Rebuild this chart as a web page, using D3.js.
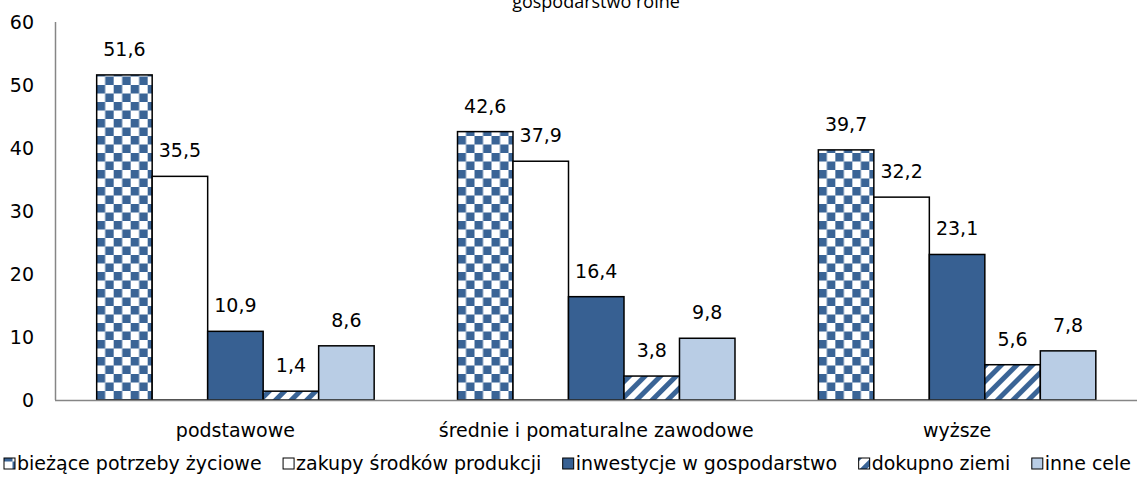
<!DOCTYPE html>
<html>
<head>
<meta charset="utf-8">
<script src="https://cdn.jsdelivr.net/npm/d3@7"></script>
<style>
  body { margin: 0; background: #fff; }
  svg { display: block; font-family: "DejaVu Sans", Verdana, sans-serif; }
</style>
</head>
<body>
<div id="chart"></div>
<script>
    // dane
    var title = "gospodarstwo rolne";
    var groups = ["podstawowe", "średnie i pomaturalne zawodowe", "wyższe"];
    var series = ["bieżące potrzeby życiowe", "zakupy środków produkcji", "inwestycje w gospodarstwo", "dokupno ziemi", "inne cele"];
    var values = [
      [51.6, 35.5, 10.9, 1.4, 8.6],
      [42.6, 37.9, 16.4, 3.8, 9.8],
      [39.7, 32.2, 23.1, 5.6, 7.8]
    ];
    var yTicks = [0, 10, 20, 30, 40, 50, 60];

    var W = 1137, H = 493;
    var svg = d3.select("#chart").append("svg").attr("width", W).attr("height", H);

    // wzory wypełnienia
    var defs = svg.append("defs");
    var checker = defs.append("pattern").attr("id", "checker")
      .attr("patternUnits", "userSpaceOnUse").attr("width", 17).attr("height", 17);
    checker.append("rect").attr("width", 17).attr("height", 17).attr("fill", "#fff");
    checker.append("rect").attr("width", 8.5).attr("height", 8.5).attr("fill", "#3a6496");
    checker.append("rect").attr("x", 8.5).attr("y", 8.5).attr("width", 8.5).attr("height", 8.5).attr("fill", "#3a6496");

    var stripes = defs.append("pattern").attr("id", "stripes")
      .attr("patternUnits", "userSpaceOnUse").attr("width", 11).attr("height", 11)
      .attr("patternTransform", "rotate(45)");
    stripes.append("rect").attr("width", 11).attr("height", 11).attr("fill", "#fff");
    stripes.append("rect").attr("width", 5).attr("height", 11).attr("fill", "#3a6496");

    var fills = ["url(#checker)", "#fff", "#376092", "url(#stripes)", "#b9cde5"];

    var x0 = d3.scaleBand().domain(groups).range([55, 1137.5]).paddingInner(0.231).paddingOuter(0.1155);
    var x1 = d3.scaleBand().domain(series).range([0, x0.bandwidth()]);
    var y = d3.scaleLinear().domain([0, 60]).range([400, 22]);

    // tytuł (ucięty u góry)
    svg.append("text").attr("x", 596).attr("y", 8)
      .attr("text-anchor", "middle").style("font-size", "18px").style("font-family", "'Open Sans', sans-serif")
      .style("fill", "#000").text(title);

    // oś Y
    svg.append("line").attr("x1", 55.5).attr("x2", 55.5).attr("y1", 22).attr("y2", 400)
      .style("stroke", "#868686").style("stroke-width", 1.5);
    svg.selectAll(".ytick").data(yTicks).enter().append("text")
      .attr("class", "ytick")
      .attr("x", 34).attr("y", function(d) { return y(d); }).attr("dy", 7)
      .attr("text-anchor", "end").style("font-size", "19px").text(function(d) { return d; });

    // słupki
    var g = svg.selectAll(".grp").data(values).enter().append("g")
      .attr("transform", function(d, i) { return "translate(" + x0(groups[i]) + ",0)"; });

    g.selectAll("rect").data(function(d) { return d; }).enter().append("rect")
      .attr("x", function(d, i) { return x1(series[i]); })
      .attr("y", function(d) { return y(d); })
      .attr("width", x1.bandwidth())
      .attr("height", function(d) { return y(0) - y(d); })
      .style("fill", function(d, i) { return fills[i]; })
      .style("stroke", "#000").style("stroke-width", 1.5);

    g.selectAll("text").data(function(d) { return d; }).enter().append("text")
      .attr("x", function(d, i) { return x1(series[i]) + x1.bandwidth() / 2; })
      .attr("y", function(d) { return y(d) - 19; })
      .attr("text-anchor", "middle").style("font-size", "19px")
      .text(function(d) { return d3.format(".1f")(d).replace(".", ","); });

    // oś X
    svg.append("line").attr("x1", 55).attr("x2", 1137).attr("y1", 400.5).attr("y2", 400.5)
      .style("stroke", "#868686").style("stroke-width", 1.5);
    svg.selectAll(".xlab").data(groups).enter().append("text")
      .attr("x", function(d) { return x0(d) + x0.bandwidth() / 2; })
      .attr("y", 437).attr("text-anchor", "middle").style("font-size", "19px")
      .text(function(d) { return d; });

    // legenda - rozłożona na szerokość ~1127px
    var leg = svg.append("g").attr("transform", "translate(4,470)");
    var items = series.map(function(s, i) {
      var it = leg.append("g");
      it.append("rect").attr("x", 0).attr("y", -12).attr("width", 11).attr("height", 11)
        .style("fill", fills[i]).style("stroke", "#000").style("stroke-width", 1);
      var t = it.append("text").attr("x", 13).attr("y", 0).style("font-size", "19px").text(s);
      return { g: it, w: 13 + t.node().getComputedTextLength() };
    });
    var total = d3.sum(items, function(d) { return d.w; });
    var gap = Math.max(10, (1127 - total) / (items.length - 1));
    var lx = 0;
    items.forEach(function(d) {
      d.g.attr("transform", "translate(" + lx + ",0)");
      lx += d.w + gap;
    });
</script>
</body>
</html>
